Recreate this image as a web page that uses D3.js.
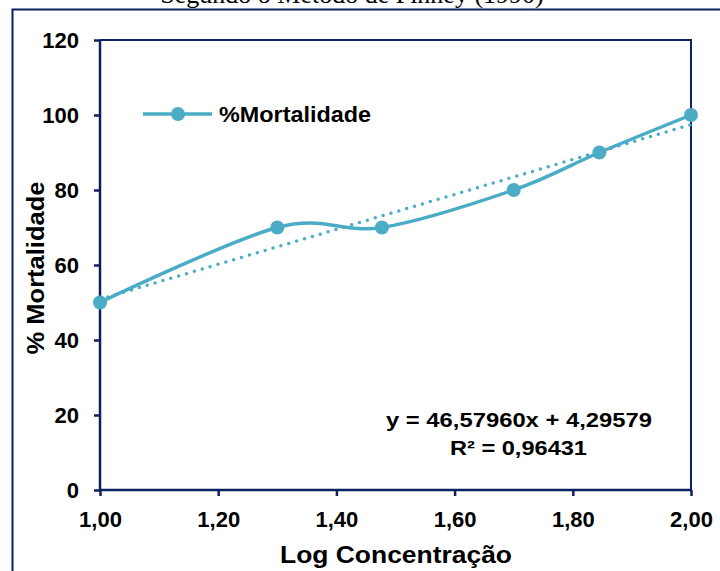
<!DOCTYPE html>
<html><head><meta charset="utf-8">
<script src="https://cdn.jsdelivr.net/npm/d3@7"></script>
<style>body{margin:0;background:#fff}</style>
</head><body>
<svg id="c" width="720" height="571"></svg>
<script>
const logConc = [1.00, 1.30, 1.477, 1.70, 1.845, 2.00];
const mortality = [50, 70, 70, 80, 90, 100];
const xTicks = [1.0, 1.2, 1.4, 1.6, 1.8, 2.0];
const yTicks = [0, 20, 40, 60, 80, 100, 120];
const slope = 46.5796, intercept = 4.29579;
const seriesName = "%Mortalidade";
const eqText = "y = 46,57960x + 4,29579";
const r2Text = "R² = 0,96431";

const svg = d3.select("#c");
const navy = "#0b2161", teal = "#4bacc6";
const font = "'Liberation Sans', Arial, sans-serif";
const L = 100, R = 691, T = 40, B = 490;
const x = d3.scaleLinear().domain([1, 2]).range([L, R]);
const y = d3.scaleLinear().domain([0, 120]).range([B, T]);

// cut-off title
svg.append("text").attr("x", 352).attr("y", 3).attr("text-anchor", "middle")
  .attr("font-family", "'Liberation Serif', 'Times New Roman', serif").attr("font-size", 26)
  .text("Segundo o Método de Finney (1990)");

// outer border
svg.append("path").attr("d", "M12.5,580 V9.5 H730").attr("fill", "none").attr("stroke", navy).attr("stroke-width", 2);

// plot frame top/right
svg.append("path").attr("d", `M${L},${T} H${R} V${B}`).attr("fill", "none").attr("stroke", navy).attr("stroke-width", 2);

const fmt = d => d3.format(".2f")(d).replace(".", ",");
const xa = svg.append("g").attr("transform", `translate(0,${B})`)
  .call(d3.axisBottom(x).tickValues(xTicks).tickSize(6).tickPadding(15).tickFormat(fmt));
const ya = svg.append("g").attr("transform", `translate(${L},0)`)
  .call(d3.axisLeft(y).tickValues(yTicks).tickSize(6).tickPadding(15));
[xa, ya].forEach(a => {
  a.select(".domain").attr("stroke", navy).attr("stroke-width", 2.5);
  a.selectAll(".tick line").attr("stroke", navy).attr("stroke-width", 2.5);
  a.selectAll("text").attr("font-family", font).attr("font-weight", "bold")
    .attr("font-size", 22).attr("fill", "#000");
});
ya.select(".domain").attr("d", `M0,${B}V${T}`);
xa.select(".domain").attr("d", `M${L},0H${R}`);

// axis titles
svg.append("text").attr("x", 396).attr("y", 563).attr("text-anchor", "middle")
  .attr("font-family", font).attr("font-weight", "bold").attr("font-size", 24)
  .attr("textLength", 232).attr("lengthAdjust", "spacingAndGlyphs").text("Log Concentração");
svg.append("text").attr("transform", `translate(44,268) rotate(-90)`).attr("text-anchor", "middle")
  .attr("font-family", font).attr("font-weight", "bold").attr("font-size", 24)
  .attr("textLength", 173).attr("lengthAdjust", "spacingAndGlyphs").text("% Mortalidade");

// trendline
svg.append("line").attr("x1", x(1)).attr("y1", y(slope * 1 + intercept))
  .attr("x2", x(2)).attr("y2", y(slope * 2 + intercept))
  .attr("stroke", teal).attr("stroke-width", 3.5).attr("stroke-linecap", "round")
  .attr("stroke-dasharray", "0 8.2");

const pts = logConc.map((d, i) => [d, mortality[i]]);
svg.append("path").datum(pts)
  .attr("d", d3.line().x(d => x(d[0])).y(d => y(d[1])).curve(d3.curveCatmullRom.alpha(0)))
  .attr("fill", "none").attr("stroke", teal).attr("stroke-width", 3.5);
svg.selectAll("circle.m").data(pts).join("circle").attr("class", "m")
  .attr("cx", d => x(d[0])).attr("cy", d => y(d[1])).attr("r", 7).attr("fill", teal);

// legend
svg.append("line").attr("x1", 143).attr("x2", 212).attr("y1", 114).attr("y2", 114)
  .attr("stroke", teal).attr("stroke-width", 3.5);
svg.append("circle").attr("cx", 178).attr("cy", 114).attr("r", 7).attr("fill", teal);
svg.append("text").attr("x", 219).attr("y", 122).attr("font-family", font).attr("font-weight", "bold")
  .attr("font-size", 22).attr("textLength", 152).attr("lengthAdjust", "spacingAndGlyphs").text(seriesName);

// equation
svg.append("text").attr("x", 519).attr("y", 427).attr("text-anchor", "middle").attr("font-family", font)
  .attr("font-weight", "bold").attr("font-size", 21).attr("textLength", 266)
  .attr("lengthAdjust", "spacingAndGlyphs").text(eqText);
svg.append("text").attr("x", 518.5).attr("y", 455).attr("text-anchor", "middle").attr("font-family", font)
  .attr("font-weight", "bold").attr("font-size", 21).attr("textLength", 137)
  .attr("lengthAdjust", "spacingAndGlyphs").text(r2Text);
</script>
</body></html>
